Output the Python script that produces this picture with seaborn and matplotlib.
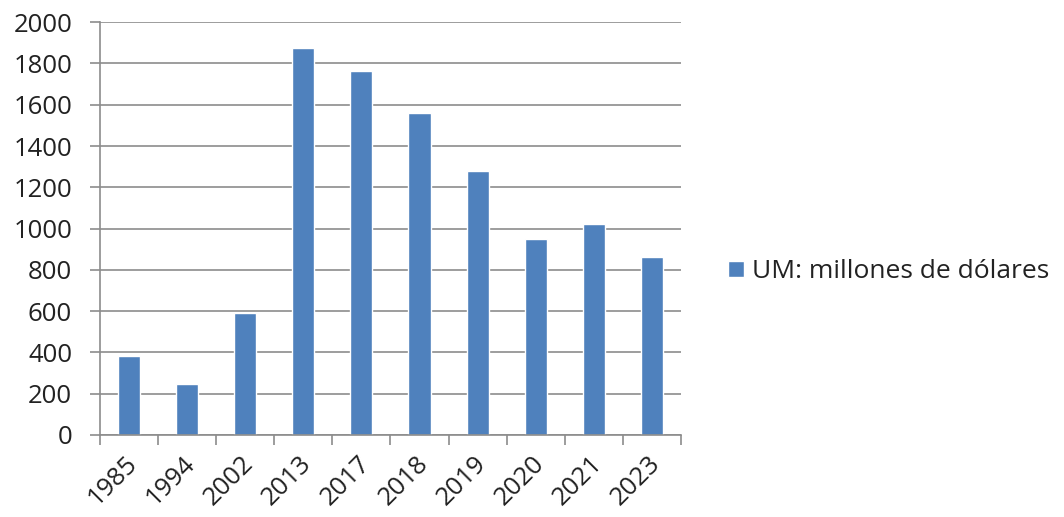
import numpy as np
import pandas as pd
import matplotlib
matplotlib.use("Agg")
import matplotlib.pyplot as plt
import matplotlib.transforms as mtransforms
import seaborn as sns
from matplotlib.ticker import FixedLocator

# data
years = ["1985", "1994", "2002", "2013", "2017", "2018", "2019", "2020", "2021", "2023"]
values = [380, 245, 590, 1875, 1765, 1560, 1280, 950, 1020, 860]
series_name = "UM: millones de dólares"

df = pd.DataFrame({"year": years, "value": values, "serie": series_name})

sns.set_theme(style="white")
plt.rcParams["font.family"] = ["Open Sans", "DejaVu Sans"]

fig = plt.figure(figsize=(10.64, 5.17), dpi=100)
ax = fig.add_axes([0.094, 0.159, 0.546, 0.798])

blue = "#4F81BD"
sns.barplot(data=df, x="year", y="value", hue="serie", palette=[blue],
            width=0.38, ax=ax, saturation=1, legend=True)

ax.set_ylim(0, 2000)
ax.set_yticks(np.arange(0, 2001, 200))
ax.set_xlim(-0.5, len(years) - 0.5)
ax.yaxis.grid(True, color="#8c8c8c", linewidth=1.2)
ax.set_axisbelow(True)
ax.set_xlabel("")
ax.set_ylabel("")

for s in ["top", "right"]:
    ax.spines[s].set_visible(False)
for s in ["left", "bottom"]:
    ax.spines[s].set_color("#8c8c8c")
    ax.spines[s].set_linewidth(1.2)

# ticks on the category boundaries, labels on bar centres
ax.xaxis.set_minor_locator(FixedLocator(np.arange(-0.5, len(years), 1)))
ax.tick_params(axis="x", which="major", length=0, pad=12, labelsize=18.5, colors="#222222")
ax.tick_params(axis="x", which="minor", length=7, width=1.2, color="#8c8c8c", bottom=True)
ax.tick_params(axis="y", which="major", length=7, width=1.2, color="#8c8c8c", left=True,
               labelsize=18.5, colors="#222222", pad=13)
shift = mtransforms.ScaledTranslation(-3 / 72, 0, fig.dpi_scale_trans)
for lbl in ax.get_xticklabels():
    lbl.set_rotation(45)
    lbl.set_ha("right")
    lbl.set_rotation_mode("anchor")
    lbl.set_transform(lbl.get_transform() + shift)

leg = ax.legend(loc="center left", bbox_to_anchor=(1.04, 0.395), frameon=False,
                fontsize=19, handlelength=0.6, handleheight=0.6, handletextpad=0.3,
                labelcolor="#222222")

fig.savefig("out.png", dpi=100)
